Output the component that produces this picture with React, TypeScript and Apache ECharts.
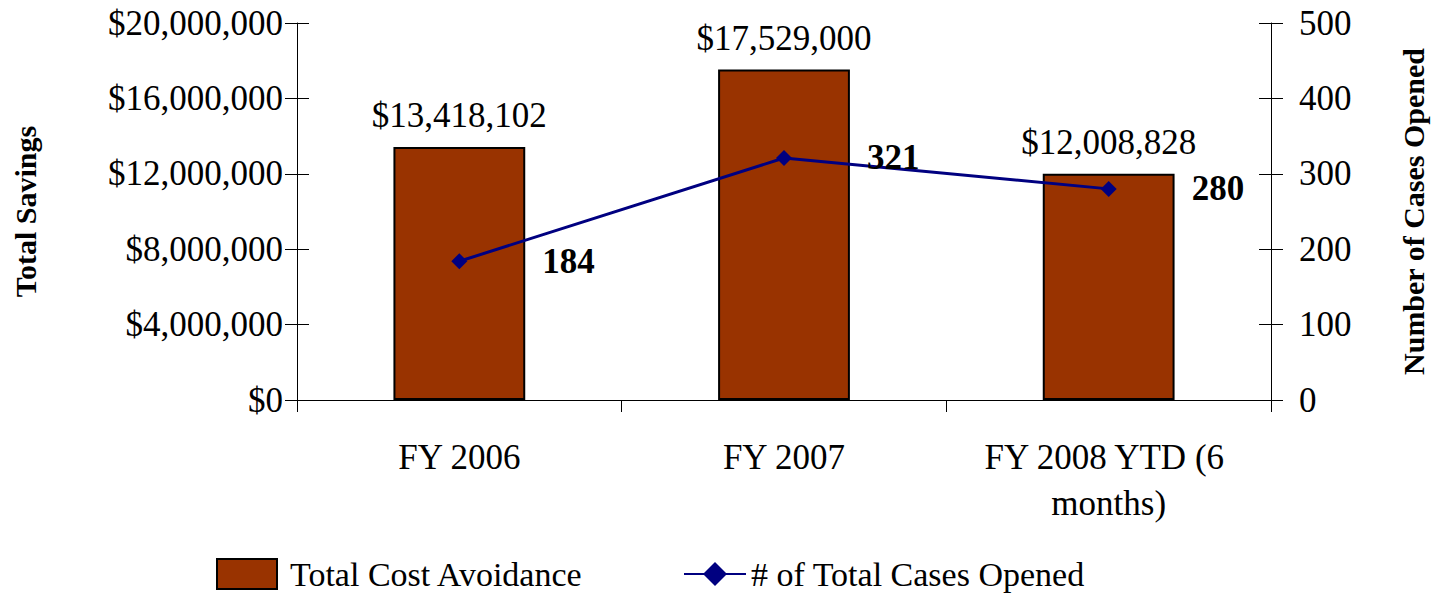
import React, { useEffect, useRef } from "react";
import * as echarts from "echarts";

const categories = ["FY 2006", "FY 2007", "FY 2008 YTD (6 months)"];
const costAvoidance = [13418102, 17529000, 12008828];
const casesOpened = [184, 321, 280];
const leftTicks = { min: 0, max: 20000000, interval: 4000000 };
const rightTicks = { min: 0, max: 500, interval: 100 };

const FONT = "'Liberation Serif', 'Times New Roman', serif";

function money(v: number) {
  return "$" + Math.round(v).toLocaleString("en-US");
}

export default function App() {
  const ref = useRef<HTMLDivElement>(null);
  useEffect(() => {
    if (!ref.current) return;
    const chart = echarts.init(ref.current, null, { renderer: "svg" });
    const axisLine = { show: true, lineStyle: { color: "#000", width: 1 } };
    chart.setOption({
      animation: false,
      textStyle: { fontFamily: FONT },
      grid: {
        left: 297,
        right: 160,
        top: 23,
        bottom: 193,
        containLabel: false,
        outerBoundsMode: "none",
      },
      legend: [
        {
          data: [{ name: "Total Cost Avoidance", icon: "rect" }],
          left: 216,
          top: 557,
          padding: 0,
          itemWidth: 60,
          itemHeight: 30,
          textStyle: {
            fontFamily: FONT,
            fontSize: 34,
            lineHeight: 30,
            color: "#000",
            padding: [0, 0, 0, 8],
          },
        },
        {
          data: ["# of Total Cases Opened"],
          left: 683,
          top: 557,
          padding: 0,
          itemWidth: 62,
          itemHeight: 30,
          textStyle: { fontFamily: FONT, fontSize: 34, lineHeight: 30, color: "#000" },
        },
      ],
      xAxis: {
        type: "category",
        data: categories,
        boundaryGap: true,
        axisLine,
        axisTick: { show: true, inside: false, length: 12, lineStyle: { color: "#000" } },
        axisLabel: {
          fontFamily: FONT,
          fontSize: 35,
          color: "#000",
          margin: 34,
          lineHeight: 46,
          width: 290,
          overflow: "break",
          interval: 0,
        },
      },
      yAxis: [
        {
          type: "value",
          position: "left",
          ...leftTicks,
          axisLine,
          axisTick: { show: true, length: 12, lineStyle: { color: "#000" } },
          splitLine: { show: false },
          axisLabel: { fontFamily: FONT, fontSize: 35, color: "#000", margin: 14, formatter: money },
          name: "Total Savings",
          nameLocation: "middle",
          nameRotate: 90,
          nameGap: 257,
          nameTextStyle: { fontFamily: FONT, fontSize: 30, fontWeight: "bold", color: "#000" },
        },
        {
          type: "value",
          position: "right",
          ...rightTicks,
          axisLine,
          axisTick: { show: true, length: 12, lineStyle: { color: "#000" } },
          splitLine: { show: false },
          axisLabel: { fontFamily: FONT, fontSize: 35, color: "#000", margin: 28 },
          name: "Number of Cases Opened",
          nameLocation: "middle",
          nameRotate: 90,
          nameGap: 127,
          nameTextStyle: { fontFamily: FONT, fontSize: 30, fontWeight: "bold", color: "#000" },
        },
        {
          type: "value",
          position: "left",
          ...leftTicks,
          axisLine: { show: false },
          axisTick: { show: true, inside: true, length: 12, lineStyle: { color: "#000" } },
          splitLine: { show: false },
          axisLabel: { show: false },
        },
        {
          type: "value",
          position: "right",
          ...rightTicks,
          axisLine: { show: false },
          axisTick: { show: true, inside: true, length: 12, lineStyle: { color: "#000" } },
          splitLine: { show: false },
          axisLabel: { show: false },
        },
      ],
      series: [
        {
          name: "Total Cost Avoidance",
          type: "bar",
          yAxisIndex: 0,
          data: costAvoidance,
          barWidth: "40.6%",
          itemStyle: { color: "#993300", borderColor: "#000", borderWidth: 2 },
          label: {
            show: true,
            position: "top",
            distance: 14,
            fontFamily: FONT,
            fontSize: 35,
            color: "#000",
            formatter: (p: any) => money(p.value),
          },
        },
        {
          name: "# of Total Cases Opened",
          type: "line",
          yAxisIndex: 1,
          data: casesOpened,
          symbol: "diamond",
          symbolSize: 16,
          lineStyle: { color: "#000080", width: 3 },
          itemStyle: { color: "#000080" },
          label: {
            show: true,
            position: "right",
            distance: 75,
            fontFamily: FONT,
            fontSize: 35,
            fontWeight: "bold",
            color: "#000",
          },
          z: 5,
        },
      ],
    });
    return () => chart.dispose();
  }, []);
  return (
    <div
      ref={ref}
      style={{ position: "absolute", left: 0, top: 0, width: 1431, height: 593, overflow: "hidden" }}
    />
  );
}
